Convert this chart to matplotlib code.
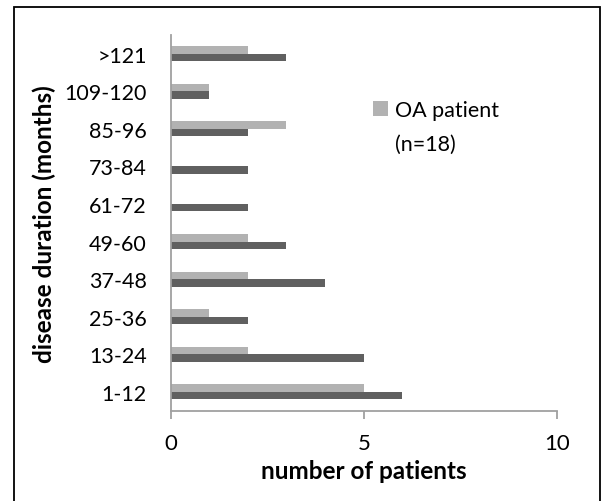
import matplotlib
matplotlib.use('Agg')
import matplotlib.pyplot as plt, numpy as np
from matplotlib.patches import Rectangle

plt.rcParams['font.family'] = ['Lato', 'DejaVu Sans']

# disease duration groups, bottom to top
durations = ['1-12', '13-24', '25-36', '37-48', '49-60', '61-72', '73-84', '85-96', '109-120', '>121']
oa_patients = [5, 2, 1, 2, 2, 0, 0, 3, 1, 2]
other_patients = [6, 5, 2, 4, 3, 2, 2, 2, 1, 3]

fig = plt.figure(figsize=(6.01, 5.02), dpi=100)
ax = fig.add_axes([170.5/601, (502-411.5)/502, (557-170.5)/601, (411.5-36)/502])

y = np.arange(len(durations))
h = 0.2
ax.barh(y + h/2, oa_patients, height=h, color='#b2b2b2', label='OA patient')
ax.barh(y - h/2, other_patients, height=h, color='#606060')

ax.set_xlim(0, 10)
ax.set_ylim(-0.5, len(durations) - 0.5)
ax.set_xticks([0, 5, 10])
ax.set_yticks(y)
ax.set_yticklabels(durations)

for side in ['top', 'right']:
	ax.spines[side].set_visible(False)
for side in ['left', 'bottom']:
	ax.spines[side].set_color('#a0a0a0')
	ax.spines[side].set_linewidth(1.3)

ax.tick_params(axis='x', length=5.4, width=1.3, color='#a0a0a0', pad=11, labelsize=16)
ax.tick_params(axis='y', length=0, pad=17, labelsize=15.5)

ax.set_xlabel('number of patients', fontsize=17.5, fontweight='bold', labelpad=4)
ax.set_ylabel('disease duration (months)', fontsize=17.5, fontweight='bold', labelpad=6)

leg = ax.legend(loc='center left', bbox_to_anchor=(0.524, 0.799), frameon=False, fontsize=15.5,
	handlelength=0.7, handleheight=0.7, handletextpad=0.33, borderpad=0, borderaxespad=0)
ax.text(0.581, 0.71, '(n=18)', transform=ax.transAxes, fontsize=15.5, va='center', ha='left')

# chart border
fig.patches.append(Rectangle((14/601, -0.05), (599.5-14)/601, 1.05 - 8/502, transform=fig.transFigure,
	fill=False, edgecolor='black', linewidth=1.3))

fig.savefig('out.png', dpi=100)
